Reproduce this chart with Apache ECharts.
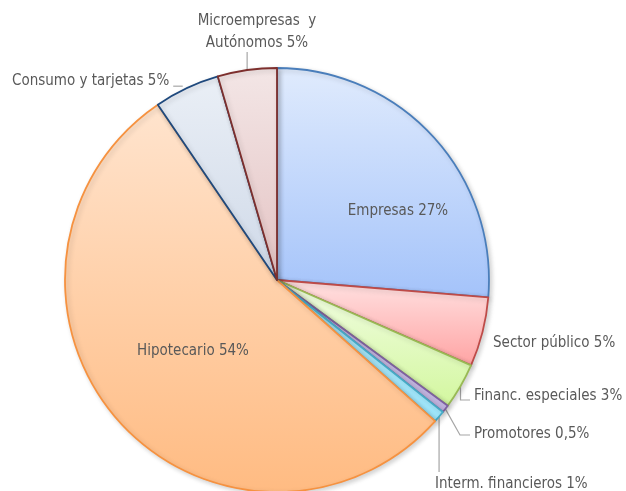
<!DOCTYPE html>
<html><head><meta charset="utf-8">
<script src="https://cdn.jsdelivr.net/npm/echarts@6/dist/echarts.min.js"></script>
<style>html,body{margin:0;padding:0;background:#fff}#c{width:626px;height:491px}</style>
</head><body><div id="c"></div>
<script>
const categories = ['Empresas', 'Sector público', 'Financ. especiales', 'Promotores', 'Interm. financieros', 'Hipotecario', 'Consumo y tarjetas', 'Microempresas  y\nAutónomos'];
const values = [26.3, 5.3, 3.5, 0.6, 0.9, 53.9, 5.0, 4.5];
const labelTexts = ['27%', '5%', '3%', '0,5%', '1%', '54%', '5%', '5%'];
const borderColors = ['#4a7ebb', '#be4b48', '#98b954', '#7d60a0', '#46aac5', '#f69240', '#1f497d', '#7d2f2d'];
const topColors = ['#e0ebfd', '#ffe2e2', '#f2fde4', '#d8cdf0', '#b2ecfc', '#ffe4ce', '#eaeff6', '#f3e6e6'];
const bottomColors = ['#a4c3fa', '#ffa3a3', '#d3f79f', '#c7b8e6', '#9ee6fb', '#ffbb82', '#cfd9e8', '#e4c3c3'];

// label placement (text anchor positions) and leader-line styles
const labelPos = [
  {x: 398, y: 211, align: 'center', inside: true},
  {x: 493, y: 343, align: 'left', line: 'none'},
  {x: 474, y: 396, align: 'left', line: 'vh'},
  {x: 474, y: 434, align: 'left', line: 'diag'},
  {x: 435, y: 484, align: 'left', line: 'v'},
  {x: 193, y: 351, align: 'center', inside: true},
  {x: 12, y: 81, align: 'left', line: 'h'},
  {x: 257, y: 32, align: 'center', line: 'v'}
];

const data = categories.map((name, i) => ({
  name: name,
  value: values[i],
  itemStyle: {
    borderColor: borderColors[i],
    borderWidth: 1.8,
    color: new echarts.graphic.LinearGradient(0, 0, 0, 1, [
      {offset: 0, color: topColors[i]},
      {offset: 1, color: bottomColors[i]}
    ])
  },
  label: {
    formatter: name + ' ' + labelTexts[i],
    position: labelPos[i].inside ? 'inside' : 'outside',
    align: labelPos[i].align
  },
  labelLine: {show: !labelPos[i].inside && labelPos[i].line !== 'none'}
}));

const chart = echarts.init(document.getElementById('c'), null, {renderer: 'canvas'});
chart.setOption({
  animation: false,
  series: [{
    type: 'pie',
    center: [277, 280],
    radius: 212,
    startAngle: 90,
    clockwise: true,
    data: data,
    label: {
      color: '#595959',
      fontFamily: 'DejaVu Sans Condensed',
      fontSize: 15,
      lineHeight: 22,
      overflow: 'none'
    },
    labelLine: {
      lineStyle: {color: '#a6a6a6', width: 1.2},
      smooth: false
    },
    itemStyle: {
      shadowColor: 'rgba(0,0,0,0.18)',
      shadowBlur: 5,
      shadowOffsetX: 2,
      shadowOffsetY: 2
    },
    labelLayout: function (p) {
      const L = labelPos[p.dataIndex];
      const w = p.labelRect.width, h = p.labelRect.height;
      const res = {x: L.x, y: L.y, align: L.align, verticalAlign: 'middle'};
      const pts = p.labelLinePoints;
      if (pts && !L.inside && L.line !== 'none') {
        const s = pts[0];
        let lp;
        if (L.line === 'vh') lp = [s, [s[0], L.y + 4], [L.x - 4, L.y + 4]];
        else if (L.line === 'diag') lp = [s, [L.x - 14, L.y + 1], [L.x - 4, L.y + 1]];
        else if (L.line === 'v' && L.align === 'left') lp = [s, [s[0], L.y - 12], [s[0], L.y - 12]];
        else if (L.line === 'v') lp = [s, [s[0], L.y + h / 2 - 2], [s[0], L.y + h / 2 - 2]];
        else if (L.line === 'h') lp = [[s[0] - 4, s[1] - 2], [L.x + w + 4, s[1] - 2], [L.x + w + 4, s[1] - 2]];
        res.labelLinePoints = lp;
      }
      return res;
    }
  }]
});
</script></body></html>
